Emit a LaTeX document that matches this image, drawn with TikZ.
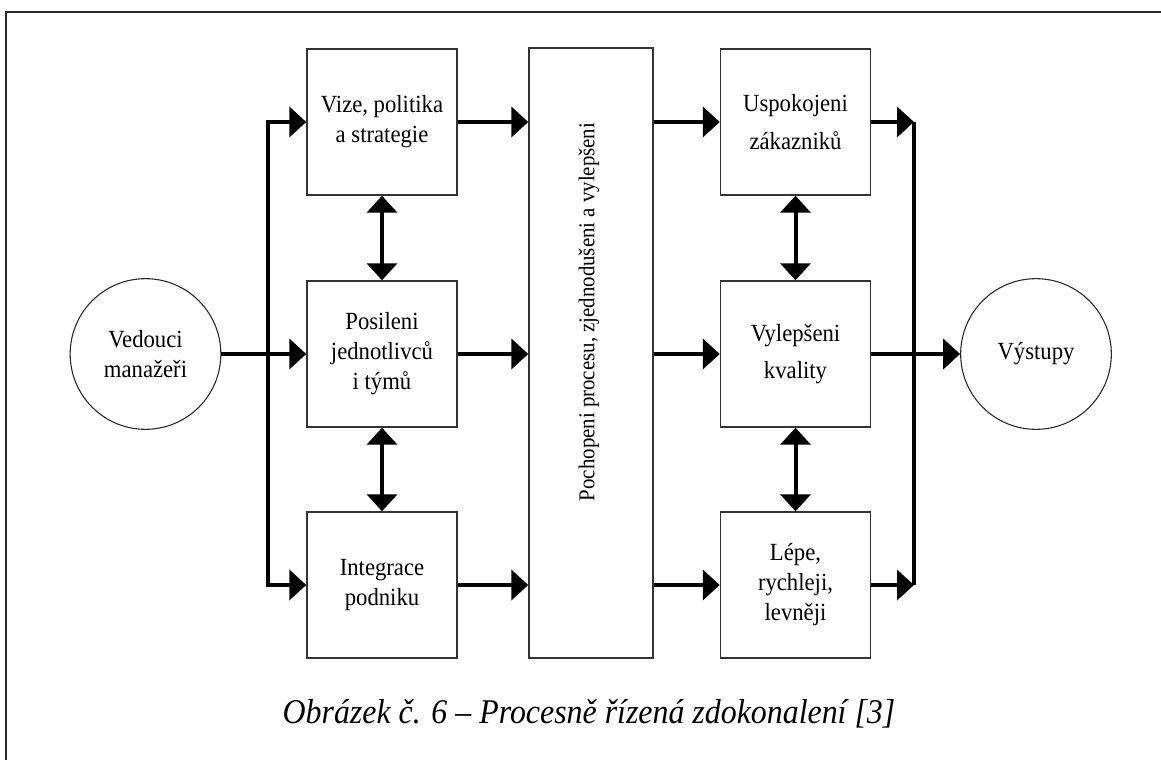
\documentclass[tikz,border=0pt]{standalone}
\usepackage{fontspec}
\setmainfont{Liberation Serif}[FakeStretch=0.92]
\usetikzlibrary{arrows.meta}
\newcommand\bxfont{\fontsize{18.5}{22.5}\selectfont}
\newcommand\bxfontwide{\fontsize{18.5}{28}\selectfont}
\newcommand\vertfont{\fontsize{17}{20}\selectfont}
\begin{document}
\begin{tikzpicture}[x=0.75pt,y=-0.75pt,
  box/.style={draw=black!80, line width=1.1pt, minimum width=112.5pt,
    minimum height=109.5pt, inner sep=0pt, align=center, font=\bxfont},
  widebox/.style={box, font=\bxfontwide},
  bigbox/.style={draw=black!80, line width=1.1pt, minimum width=93pt,
    minimum height=457.5pt, inner sep=0pt},
  ring/.style={circle, draw=black!85, line width=0.8pt, minimum size=113pt,
    inner sep=0pt, align=center, font=\bxfont},
  conn/.style={line width=3pt, line join=miter},
  >={Triangle[length=12.75pt,width=22.5pt]},
  caption/.style={font=\fontsize{26}{30}\selectfont\itshape, anchor=base}
]
\useasboundingbox (0,0) rectangle (1161,760);

% outer frame (top and left edges lie on the page)
\draw[line width=1.5pt, black!85] (6,760) -- (6,12) -- (1161,12);

% nodes
\node[ring] (ved) at (145.5,354) {Vedouci\\manažeři};
\node[box] (vize)  at (382,122) {Vize, politika\\a strategie};
\node[box] (posil) at (382,354) {Posileni\\jednotlivců\\i týmů};
\node[box] (integ) at (382,585) {Integrace\\podniku};
\node[bigbox] (big) at (591,353) {};
\node[rotate=90, font=\vertfont, inner sep=0pt] (bigtxt) at (589,312)
  {Pochopeni procesu, zjednodušeni a vylepšeni};
\node[widebox] (uspok) at (795.5,122) {Uspokojeni\\zákazniků};
\node[widebox] (vylep) at (795.5,354) {Vylepšeni\\kvality};
\node[box] (lepe)  at (795.5,585) {Lépe,\\rychleji,\\levněji};
\node[ring] (vyst) at (1036,354) {Výstupy};

\coordinate (lbx) at (268,354);
\coordinate (rbx) at (914,354);

% input bus
\draw[conn,<->] (vize.west) -| (lbx |- integ.west) -- (integ.west);
\draw[conn,->] (ved.east) -- (posil.west);

% left column into the process box
\draw[conn,->] (vize.east)  -- (vize.east -| big.west);
\draw[conn,->] (posil.east) -- (posil.east -| big.west);
\draw[conn,->] (integ.east) -- (integ.east -| big.west);

% process box to results
\draw[conn,->] (big.east |- uspok.west) -- (uspok.west);
\draw[conn,->] (big.east |- vylep.west) -- (vylep.west);
\draw[conn,->] (big.east |- lepe.west)  -- (lepe.west);

% output bus
\draw[conn] (rbx |- uspok.east) -- (rbx |- lepe.east);
\draw[conn,->] (uspok.east) -- (rbx |- uspok.east);
\draw[conn,->] (lepe.east)  -- (rbx |- lepe.east);
\draw[conn,->] (vylep.east) -- (vyst.west);

% links between neighbours in each column
\draw[conn,<->] (vize.south)  -- (posil.north);
\draw[conn,<->] (posil.south) -- (integ.north);
\draw[conn,<->] (uspok.south) -- (vylep.north);
\draw[conn,<->] (vylep.south) -- (lepe.north);

\node[caption] (cap) at (589,723) {Obrázek č. 6 – Procesně řízená zdokonalení [3]};
\end{tikzpicture}
\end{document}
